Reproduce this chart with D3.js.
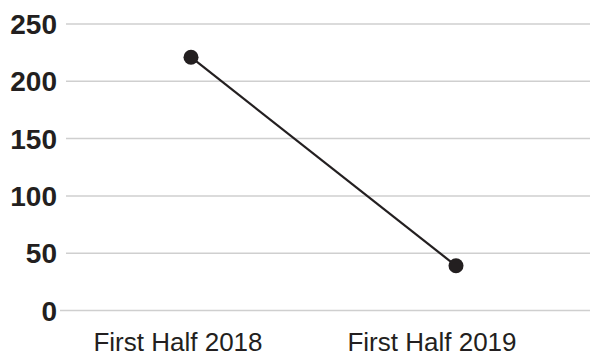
<!DOCTYPE html>
<html>
<head>
<meta charset="utf-8">
<script src="https://cdn.jsdelivr.net/npm/d3@7"></script>
<style>
  body { margin: 0; background: #fff; }
  svg { display: block; }
</style>
</head>
<body>
<svg id="chart"></svg>
<script>
// data
let periods = ['First Half 2018', 'First Half 2019'];
let values = [221, 39];
let yTicks = [0, 50, 100, 150, 200, 250];

let widthSVG = 590;
let heightSVG = 356;

let svg = d3.select('svg#chart')
            .attr('width', widthSVG)
            .attr('height', heightSVG);

// scales
let y = d3.scaleLinear().domain([0, 250]).range([310.5, 24]);
let x = d3.scalePoint().domain(periods).range([191, 456]);
// labels sit a little left of the points
let xLab = d3.scalePoint().domain(periods).range([178, 432]);

// grid lines
svg.append('g')
   .selectAll('line')
   .data(yTicks)
   .enter()
   .append('line')
   .attr('x1', d => d === 0 ? 60 : 66)
   .attr('x2', widthSVG)
   .attr('y1', d => y(d))
   .attr('y2', d => y(d))
   .style('stroke', '#cfcfcf')
   .style('stroke-width', '1.5px');

// y labels
svg.append('g')
   .selectAll('text')
   .data(yTicks)
   .enter()
   .append('text')
   .text(d => d)
   .attr('x', 57)
   .attr('y', d => y(d))
   .attr('dy', '0.36em')
   .style('text-anchor', 'end')
   .style('font-family', 'Liberation Sans, Arial, sans-serif')
   .style('font-weight', 'bold')
   .style('font-size', '28px')
   .style('fill', '#231f20');

// x labels
svg.append('g')
   .selectAll('text')
   .data(periods)
   .enter()
   .append('text')
   .text(d => d)
   .attr('x', d => xLab(d))
   .attr('y', 351)
   .style('text-anchor', 'middle')
   .style('font-family', 'Liberation Sans, Arial, sans-serif')
   .style('font-size', '26px')
   .style('fill', '#231f20');

// line
let line = d3.line()
             .x((d, i) => x(periods[i]))
             .y(d => y(d));

svg.append('path')
   .datum(values)
   .attr('d', line)
   .style('fill', 'none')
   .style('stroke', '#231f20')
   .style('stroke-width', '2.2px');

// points
svg.append('g')
   .selectAll('circle')
   .data(values)
   .enter()
   .append('circle')
   .attr('cx', (d, i) => x(periods[i]))
   .attr('cy', d => y(d))
   .attr('r', 7.5)
   .style('fill', '#231f20');
</script>
</body>
</html>
